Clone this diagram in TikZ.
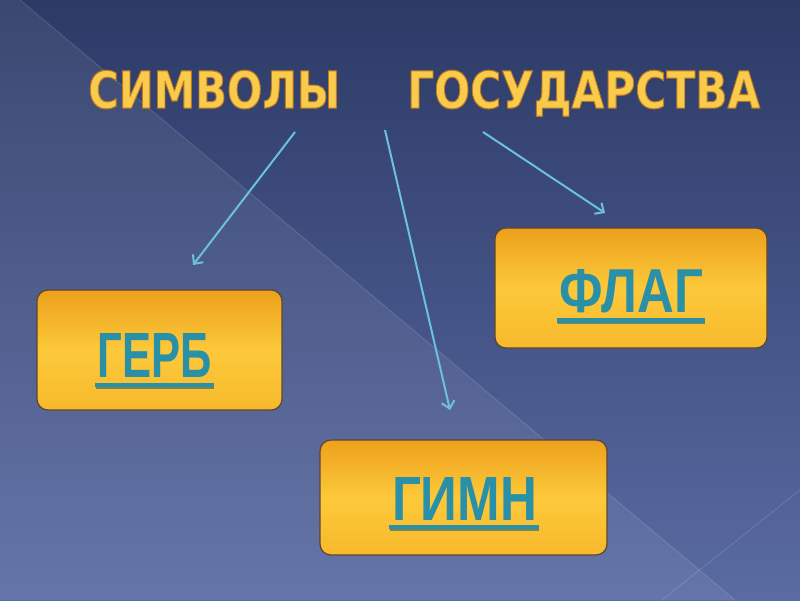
\documentclass[tikz,border=0pt]{standalone}
\usepackage{fontspec}
\usetikzlibrary{arrows.meta}
\newfontfamily\ttlfont{DejaVu Sans}
\newfontfamily\boxfont{Liberation Sans}
\definecolor{bgtop}{HTML}{2C3A66}
\definecolor{bgbot}{HTML}{5A6BA3}
\definecolor{goldA}{HTML}{EDA01C}
\definecolor{goldB}{HTML}{FCC93A}
\definecolor{goldC}{HTML}{F7B92C}
\definecolor{goldedge}{HTML}{5B4630}
\definecolor{tealtxt}{HTML}{2A90A8}
\definecolor{tealdark}{HTML}{1E5E6C}
\definecolor{arrowblue}{HTML}{6CC0E0}
\definecolor{titlegold}{HTML}{F8CB4C}
\newcommand{\outlined}[3]{\resizebox{#2pt}{#3pt}{\textcolor{titlegold}{%
  \special{pdf:literal direct 0.75 0.47 0.12 RG 2 Tr 1.1 w 1 j}%
  \fontsize{52}{60}\ttlfont\bfseries #1%
  \special{pdf:literal direct 0 Tr 1 w 0 j}}}}
\tikzset{
  goldbox/.style={rectangle, rounded corners=11pt, draw=goldedge, line width=1.2pt,
    top color=goldA, bottom color=goldC, middle color=goldB, inner sep=0pt},
  boxlabel/.style={inner sep=0pt, text=tealtxt, font=\boxfont\bfseries},
  titleword/.style={inner sep=0pt},
  uline/.style={draw=tealtxt, line width=4.5pt},
  ushadow/.style={draw=tealdark, line width=4.5pt, opacity=0.6},
  conn/.style={draw=arrowblue, line width=2pt, -{Straight Barb[length=7pt,width=13pt]}},
}
\begin{document}
\begin{tikzpicture}[x=1pt,y=-1pt]
\useasboundingbox (0,0) rectangle (800,600);
% background
\shade[top color=bgtop, bottom color=bgbot] (0,0) rectangle (800,600);
\fill[white, opacity=0.07] (20,0) -- (735,600) -- (0,600) -- (0,0) -- cycle;
\draw[white, opacity=0.12, line width=1pt] (20,0) -- (735,600);
\draw[white, opacity=0.12, line width=1pt] (800,490) -- (662,600);
% title
\node[titleword, anchor=north west] (w1) at (88,70) {\outlined{СИМВОЛЫ}{252}{38}};
\node[titleword, anchor=north west] (w2) at (407,70) {\outlined{ГОСУДАРСТВА}{353}{38}};
% boxes
\node[goldbox, minimum width=245pt, minimum height=120pt] (gerb) at (159.5,350) {};
\node[goldbox, minimum width=272pt, minimum height=120pt] (flag) at (631,288) {};
\node[goldbox, minimum width=287pt, minimum height=115pt] (gimn) at (463.5,497.5) {};
% labels
\node[boxlabel] (gerbt) at (155,355) {\resizebox{114pt}{44pt}{ГЕРБ}};
\node[boxlabel] (flagt) at (631.5,291.5) {\resizebox{143pt}{43pt}{ФЛАГ}};
\node[boxlabel] (gimnt) at (464.5,498.5) {\resizebox{145pt}{43pt}{ГИМН}};
% underlines
\foreach \t/\d in {gerbt/8, flagt/7, gimnt/7}{
  \draw[ushadow] ([xshift=-2pt, yshift=-\d pt-1.5pt]\t.south west) -- ([xshift=2pt, yshift=-\d pt-1.5pt]\t.south east);
  \draw[uline] ([xshift=-3pt, yshift=-\d pt]\t.south west) -- ([xshift=2pt, yshift=-\d pt]\t.south east);
}
% connectors
\coordinate (s1) at (295,132);
\coordinate (e1) at (193,265);
\coordinate (s2) at (385,130);
\coordinate (e2) at (450,410);
\coordinate (s3) at (483,132);
\coordinate (e3) at (605,213);
\draw[conn] (s1) -- (e1);
\draw[conn] (s2) -- (e2);
\draw[conn] (s3) -- (e3);
\end{tikzpicture}
\end{document}
